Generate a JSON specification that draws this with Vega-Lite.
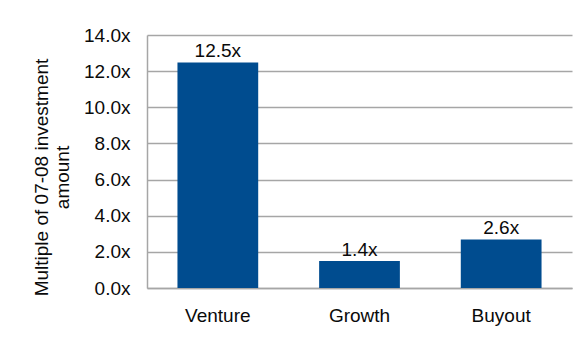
{
  "$schema": "https://vega.github.io/schema/vega-lite/v6.json",
  "width": 425,
  "height": 253,
  "autosize": "none",
  "padding": {"left": 147, "top": 35, "right": 6, "bottom": 56},
  "background": "white",
  "config": {
    "font": "Liberation Sans",
    "view": {"stroke": null},
    "axis": {"labelFont": "Liberation Sans", "titleFont": "Liberation Sans", "labelColor": "#0a0a0a", "titleColor": "#0a0a0a"}
  },
  "data": {
    "values": [
      {"category": "Venture", "multiple": 12.48, "label": "12.5x"},
      {"category": "Growth", "multiple": 1.5, "label": "1.4x"},
      {"category": "Buyout", "multiple": 2.69, "label": "2.6x"}
    ]
  },
  "encoding": {
    "x": {
      "field": "category",
      "type": "nominal",
      "sort": null,
      "scale": {"paddingInner": 0.43, "paddingOuter": 0.215},
      "axis": {
        "title": null,
        "labelAngle": 0,
        "labelFontSize": 19,
        "labelPadding": 18,
        "ticks": false,
        "domainColor": "#a6a6a6",
        "domainWidth": 1.5
      }
    },
    "y": {
      "field": "multiple",
      "type": "quantitative",
      "scale": {"domain": [0, 14], "nice": false},
      "axis": {
        "title": ["Multiple of 07-08 investment", "amount"],
        "titleFontSize": 19,
        "titleFontWeight": "normal",
        "titleAngle": -90,
        "titleAlign": "center",
        "titleBaseline": "top",
        "titleX": -115,
        "titleY": 142,
        "titleLineHeight": 21,
        "values": [0, 2, 4, 6, 8, 10, 12, 14],
        "labelExpr": "format(datum.value, '.1f') + 'x'",
        "labelFontSize": 19,
        "labelPadding": 17,
        "ticks": false,
        "grid": true,
        "gridColor": "#a6a6a6",
        "gridWidth": 1.5,
        "domainColor": "#a6a6a6",
        "domainWidth": 1.5
      }
    }
  },
  "layer": [
    {"mark": {"type": "bar", "color": "#004C8F"}},
    {
      "mark": {"type": "text", "baseline": "alphabetic", "dy": -5, "fontSize": 19, "color": "#0a0a0a", "font": "Liberation Sans"},
      "encoding": {"text": {"field": "label"}}
    }
  ]
}
